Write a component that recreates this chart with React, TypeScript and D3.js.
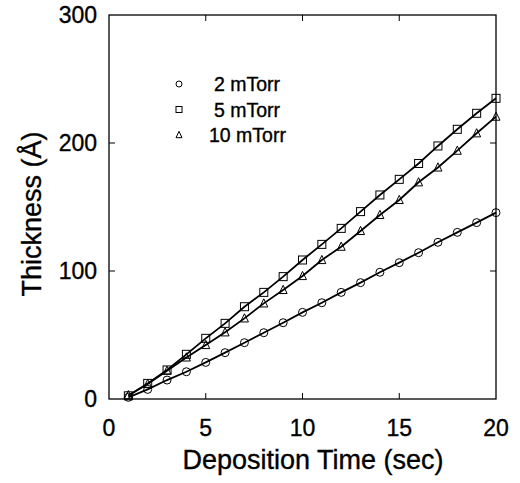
import React from "react";
import * as d3 from "d3";

const times = [1, 2, 3, 4, 5, 6, 7, 8, 9, 10, 11, 12, 13, 14, 15, 16, 17, 18, 19, 20];
const torr2 = [1.3, 7.5, 14.8, 21.3, 28.6, 36.2, 44.0, 51.8, 59.6, 67.7, 75.2, 83.3, 90.9, 99.0, 106.5, 114.3, 122.4, 130.2, 137.8, 145.6];
const torr5 = [2.5, 12.2, 22.7, 34.9, 47.4, 59.1, 72.1, 83.3, 95.6, 108.6, 120.8, 133.3, 146.4, 159.4, 171.6, 184.0, 197.7, 210.7, 223.2, 234.9];
const torr10 = [3.0, 11.7, 22.1, 32.5, 42.2, 52.1, 63.0, 74.7, 85.2, 96.1, 108.6, 119.0, 131.3, 143.8, 155.5, 169.3, 180.9, 194.0, 207.6, 220.6];
const seriesNames = ["2 mTorr", "5 mTorr", "10 mTorr"];
const xTicks = [0, 5, 10, 15, 20];
const yTicks = [0, 100, 200, 300];

const FONT = "'Liberation Sans', Arial, sans-serif";

export default function App() {
  const W = 520, H = 483;
  const left = 109, right = 496, top = 15, bottom = 399;
  const x = d3.scaleLinear().domain([0, 20]).range([left, right]);
  const y = d3.scaleLinear().domain([0, 300]).range([bottom, top]);
  const series = [torr2, torr5, torr10];
  const shapes = ["circle", "square", "triangle"];
  const line = d3.line<number>().x((_, i) => x(times[i])).y((d) => y(d));

  const marker = (shape: string, cx: number, cy: number, s: number, key: any) => {
    if (shape === "circle") return <circle key={key} cx={cx} cy={cy} r={s / 2} fill="none" stroke="#000" strokeWidth={1} />;
    if (shape === "square") return <rect key={key} x={cx - s / 2} y={cy - s / 2} width={s} height={s} fill="none" stroke="#000" strokeWidth={1} />;
    const h = s * 0.9;
    return <path key={key} d={`M${cx},${cy - h / 2 - 1}L${cx + s / 2},${cy + h / 2}L${cx - s / 2},${cy + h / 2}Z`} fill="none" stroke="#000" strokeWidth={1} />;
  };

  const tl = 6;
  const textStyle = { fontFamily: FONT, fill: "#000", stroke: "#000", strokeWidth: 0.35 };
  return (
    <svg width={W} height={H} style={{ position: "absolute", left: 0, top: 0, background: "#fff" }}>
      <rect x={0} y={0} width={W} height={H} fill="#fff" />
      <rect x={left} y={top} width={right - left} height={bottom - top} fill="none" stroke="#000" strokeWidth={1.3} />
      {xTicks.slice(1, -1).map((t) => (
        <g key={"xt" + t}>
          <line x1={x(t)} x2={x(t)} y1={bottom} y2={bottom - tl} stroke="#000" strokeWidth={1} />
          <line x1={x(t)} x2={x(t)} y1={top} y2={top + tl} stroke="#000" strokeWidth={1} />
        </g>
      ))}
      {yTicks.slice(1, -1).map((t) => (
        <g key={"yt" + t}>
          <line x1={left} x2={left + tl} y1={y(t)} y2={y(t)} stroke="#000" strokeWidth={1} />
          <line x1={right} x2={right - tl} y1={y(t)} y2={y(t)} stroke="#000" strokeWidth={1} />
        </g>
      ))}
      {xTicks.map((t) => (
        <text key={"xl" + t} x={x(t)} y={436} textAnchor="middle" fontSize={23} style={textStyle}>{t}</text>
      ))}
      {yTicks.map((t) => (
        <text key={"yl" + t} x={97} y={y(t) + 8} textAnchor="end" fontSize={23} style={textStyle}>{t}</text>
      ))}
      <text x={313} y={469} textAnchor="middle" fontSize={27} style={textStyle}>Deposition Time (sec)</text>
      <text transform={`translate(41,214) rotate(-90)`} textAnchor="middle" fontSize={27} style={textStyle}>Thickness (Å)</text>
      {series.map((s, si) => (
        <g key={"s" + si}>
          <path d={line(s) || ""} fill="none" stroke="#000" strokeWidth={1.8} />
          {s.map((v, i) => marker(shapes[si], x(times[i]), y(v), 8, i))}
        </g>
      ))}
      {seriesNames.map((n, i) => (
        <g key={"lg" + i}>
          {marker(shapes[i], 179, 84 + i * 25.5, 6, "m")}
          <text x={n.startsWith("10") ? 209 : 214} y={84 + i * 25.5 + 7} fontSize={19.5} style={textStyle}>{n}</text>
        </g>
      ))}
    </svg>
  );
}
